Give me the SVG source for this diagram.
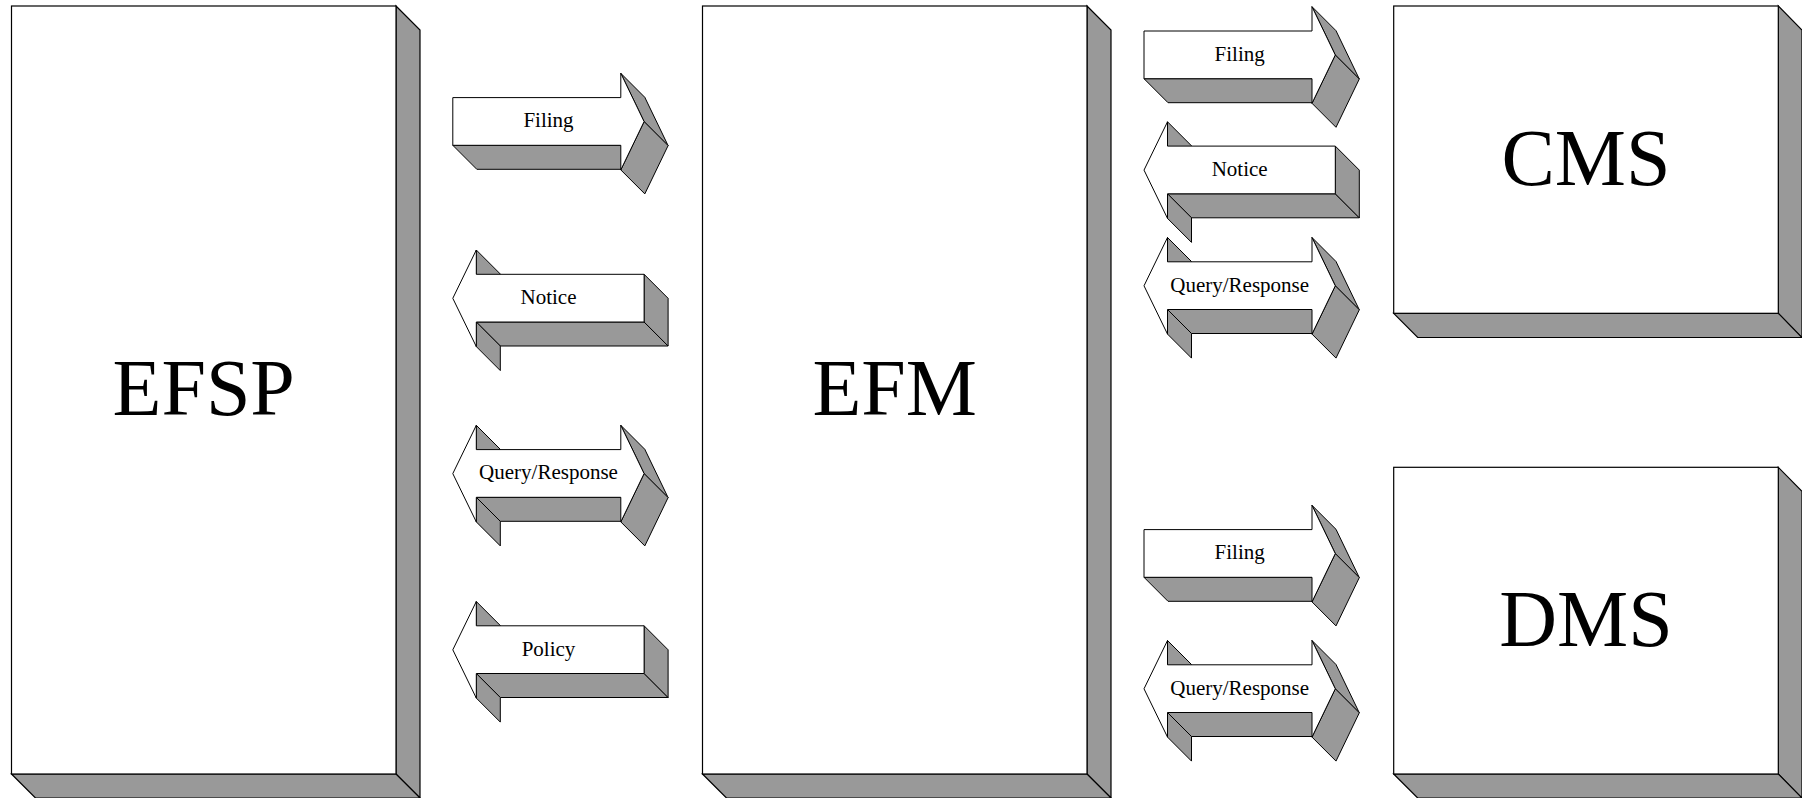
<svg xmlns="http://www.w3.org/2000/svg" xmlns:xlink="http://www.w3.org/1999/xlink" width="1802" height="798" viewBox="0 0 1802 798">
<style>
.f{fill:#ffffff;stroke:#000;stroke-width:1.2;stroke-linejoin:miter}
.s{fill:#999999;stroke:#000;stroke-width:1.2;stroke-linejoin:miter}
.af{fill:#ffffff;stroke:#000;stroke-width:1;stroke-linejoin:miter}
.as{fill:#999999;stroke:#000;stroke-width:1;stroke-linejoin:miter}
.big{font-family:"Liberation Serif","Times New Roman",serif;font-size:80px;fill:#000;text-anchor:middle}
.lbl{font-family:"Liberation Serif","Times New Roman",serif;font-size:21px;fill:#000;text-anchor:middle}
</style>
<defs>
<g id="ra">
<path class="as" d="M0,72 L168,72 L192,96 L24,96 Z"/>
<path class="as" d="M168,0 L192,24 L215.3,72.3 L191.3,48.3 Z"/>
<path class="as" d="M191.3,48.3 L215.3,72.3 L192,120.6 L168,96.6 Z"/>
<path class="af" d="M0,24.3 L168,24.3 L168,0 L191.3,48.3 L168,96.6 L168,72 L0,72 Z"/>
</g>
<g id="la">
<path class="as" d="M23.5,72 L191.3,72 L215.3,96 L47.5,96 Z"/>
<path class="as" d="M191.3,24.3 L215.3,48.3 L215.3,96 L191.3,72 Z"/>
<path class="as" d="M23.5,0 L47.5,24 L47.5,48.3 L23.5,24.3 Z"/>
<path class="as" d="M23.5,72 L47.5,96 L47.5,120.6 L23.5,96.6 Z"/>
<path class="af" d="M0,48.3 L23.5,0 L23.5,24.3 L191.3,24.3 L191.3,72 L23.5,72 L23.5,96.6 Z"/>
</g>
<g id="da">
<path class="as" d="M23.5,72 L168,72 L192,96 L47.5,96 Z"/>
<path class="as" d="M168,0 L192,24 L215.3,72.3 L191.3,48.3 Z"/>
<path class="as" d="M191.3,48.3 L215.3,72.3 L192,120.6 L168,96.6 Z"/>
<path class="as" d="M23.5,0 L47.5,24 L47.5,48.3 L23.5,24.3 Z"/>
<path class="as" d="M23.5,72 L47.5,96 L47.5,120.6 L23.5,96.6 Z"/>
<path class="af" d="M0,48.3 L23.5,0 L23.5,24.3 L168,24.3 L168,0 L191.3,48.3 L168,96.6 L168,72 L23.5,72 L23.5,96.6 Z"/>
</g>
</defs>

<g id="EFSP">
<path class="s" d="M396,6 L420,30 L420,798 L396,774 Z"/>
<path class="s" d="M11.5,774 L396,774 L420,798 L35.5,798 Z"/>
<rect class="f" x="11.5" y="6" width="384.5" height="768"/>
<text class="big" x="203.7" y="415">EFSP</text>
</g>

<g id="EFM">
<path class="s" d="M1087,6 L1111,30 L1111,798 L1087,774 Z"/>
<path class="s" d="M702.5,774 L1087,774 L1111,798 L726.5,798 Z"/>
<rect class="f" x="702.5" y="6" width="384.5" height="768"/>
<text class="big" x="894.7" y="415">EFM</text>
</g>

<g id="CMS">
<path class="s" d="M1778.3,6 L1802,30 L1802,337.5 L1778.3,313.3 Z"/>
<path class="s" d="M1393.7,313.3 L1778.3,313.3 L1802,337.5 L1417.7,337.5 Z"/>
<rect class="f" x="1393.7" y="6" width="384.6" height="307.3"/>
<text class="big" x="1586" y="185">CMS</text>
</g>

<g id="DMS">
<path class="s" d="M1778.3,467.3 L1802,491.3 L1802,798 L1778.3,774 Z"/>
<path class="s" d="M1393.7,774 L1778.3,774 L1802,798 L1417.7,798 Z"/>
<rect class="f" x="1393.7" y="467.3" width="384.6" height="306.7"/>
<text class="big" x="1586" y="646">DMS</text>
</g>

<g id="connectors">
<g id="efsp-filing" transform="translate(452.8,73.3)"><use xlink:href="#ra" href="#ra"/><text class="lbl" x="95.7" y="54">Filing</text></g>
<g id="efsp-notice" transform="translate(452.8,250)"><use xlink:href="#la" href="#la"/><text class="lbl" x="95.7" y="54">Notice</text></g>
<g id="efsp-query" transform="translate(452.8,425.3)"><use xlink:href="#da" href="#da"/><text class="lbl" x="95.7" y="54">Query/Response</text></g>
<g id="efsp-policy" transform="translate(452.8,601.5)"><use xlink:href="#la" href="#la"/><text class="lbl" x="95.7" y="54">Policy</text></g>
<g id="cms-filing" transform="translate(1144,6.7)"><use xlink:href="#ra" href="#ra"/><text class="lbl" x="95.7" y="54">Filing</text></g>
<g id="cms-notice" transform="translate(1144,121.8)"><use xlink:href="#la" href="#la"/><text class="lbl" x="95.7" y="54">Notice</text></g>
<g id="cms-query" transform="translate(1144,237.5)"><use xlink:href="#da" href="#da"/><text class="lbl" x="95.7" y="54">Query/Response</text></g>
<g id="dms-filing" transform="translate(1144,505.3)"><use xlink:href="#ra" href="#ra"/><text class="lbl" x="95.7" y="54">Filing</text></g>
<g id="dms-query" transform="translate(1144,640.5)"><use xlink:href="#da" href="#da"/><text class="lbl" x="95.7" y="54">Query/Response</text></g>
</g>
</svg>
